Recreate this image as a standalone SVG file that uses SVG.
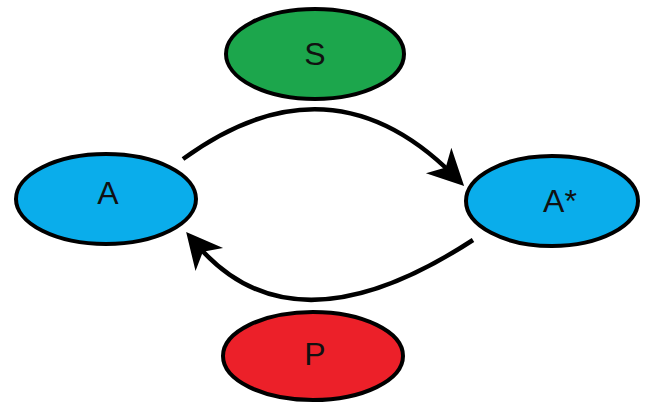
<svg xmlns="http://www.w3.org/2000/svg" width="652" height="410" viewBox="0 0 652 410">
  <defs>
    <marker id="head" markerUnits="userSpaceOnUse" viewBox="-25 -25 50 50" markerWidth="50" markerHeight="50" refX="0" refY="0" orient="auto">
      <path d="M15,0 L-21,-18 L-11,0 L-21,18 Z" fill="#000"/>
    </marker>
  </defs>
  <style>
    .node { stroke: #000; stroke-width: 4; }
    .label { font-family: "Liberation Sans", Arial, sans-serif; font-size: 32px; fill: #111; text-anchor: middle; }
    .edge { fill: none; stroke: #000; stroke-width: 4.5; }
  </style>
  <rect width="652" height="410" fill="#fff"/>

  <g id="connectors">
    <path class="edge" d="M183,159 Q330,52 453.5,175.3" marker-end="url(#head)"/>
    <path class="edge" d="M473,240 Q292,358 195.8,243.4" marker-end="url(#head)"/>
  </g>

  <g id="node-S">
    <ellipse class="node" cx="315" cy="54" rx="89" ry="45" fill="#1ca64c"/>
    <text class="label" x="315" y="65">S</text>
  </g>
  <g id="node-A">
    <ellipse class="node" cx="106" cy="199" rx="90" ry="45" fill="#0aadeb"/>
    <text class="label" x="108" y="204">A</text>
  </g>
  <g id="node-Astar">
    <ellipse class="node" cx="552" cy="201" rx="86" ry="45" fill="#0aadeb"/>
    <text class="label" x="560" y="212">A*</text>
  </g>
  <g id="node-P">
    <ellipse class="node" cx="313" cy="356" rx="90" ry="44" fill="#ec2029"/>
    <text class="label" x="315" y="365">P</text>
  </g>
</svg>
